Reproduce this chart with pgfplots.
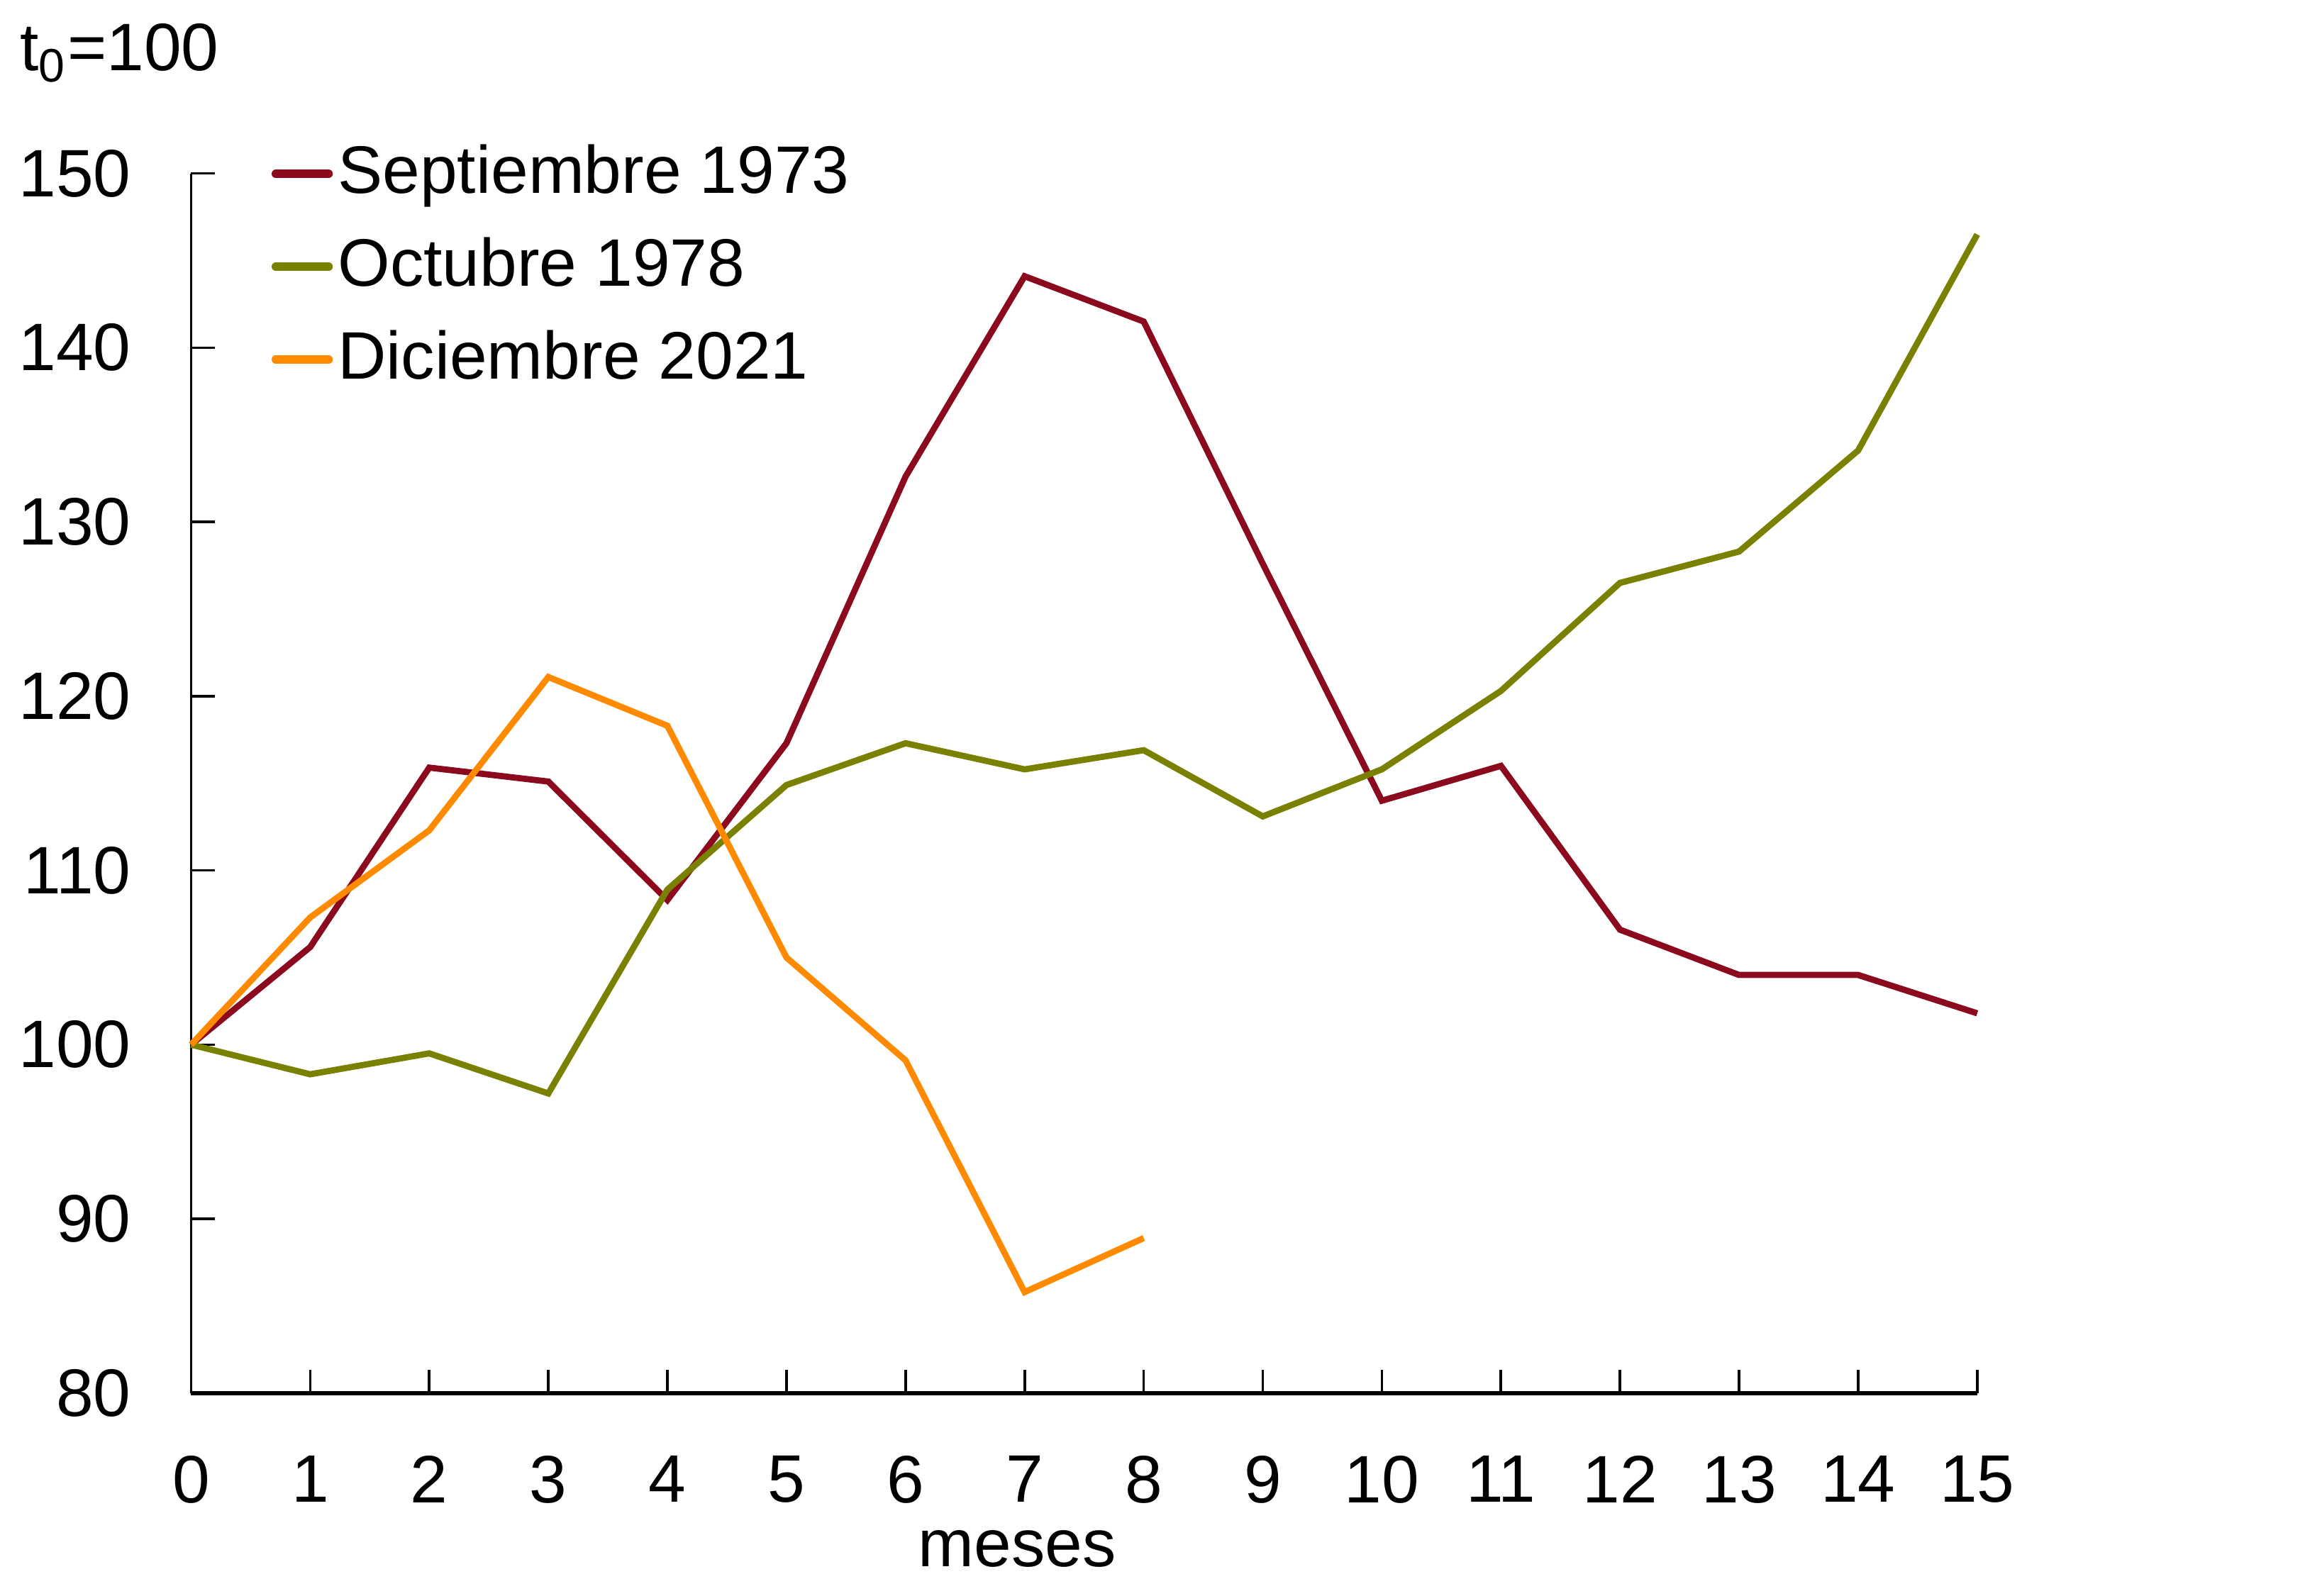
\documentclass[border=0pt]{standalone}
\usepackage{fontspec}
\setmainfont{Liberation Sans}
\usepackage{pgfplots}
\pgfplotsset{compat=1.18}
\definecolor{cRed}{HTML}{8B0A1E}
\definecolor{cOlive}{HTML}{7A8000}
\definecolor{cOrange}{HTML}{FF8A00}
\begin{document}
\fontsize{13}{15.5}\selectfont
\begin{tikzpicture}
\path[use as bounding box] (-1.30cm,-1.38cm) rectangle (14.38cm,9.48cm);
\begin{axis}[
  at={(0,0)}, anchor=origin,
  scale only axis, width=12.15cm, height=8.30cm,
  xmin=0, xmax=15, ymin=80, ymax=150,
  axis x line*=bottom, axis y line*=left,
  x axis line style={line width=0.9pt,-},
  y axis line style={line width=0.5pt,-},
  xtick={0,...,15}, ytick={80,90,...,150},
  tick align=inside, major tick length=0.16cm,
  tick style={line width=0.5pt,black},
  /pgf/number format/assume math mode=true,
  ticklabel style={font=\fontsize{13}{15.5}\selectfont},
  xticklabel style={inner ysep=0pt, yshift=-0.42cm},
  yticklabel style={xshift=-0.25cm},
  clip=false,
  legend cell align=left,
  legend style={draw=none, fill=none, at={(rel axis cs:0.0445,1.033)}, anchor=north west, inner sep=0pt, font=\fontsize{13}{15.5}\selectfont, row sep=2.6pt, nodes={inner xsep=1pt}},
  legend image code/.code={\draw[line width=1.6pt, line cap=round] (0cm,0cm) -- (0.36cm,0cm);},
]
\addplot[cRed, line width=1.2pt] coordinates {
(0,100) (1,105.6) (2,115.9) (3,115.1) (4,108.3) (5,117.3) (6,132.6) (7,144.1) (8,141.5) (9,127.6) (10,114.0) (11,116.0) (12,106.6) (13,104.0) (14,104.0) (15,101.8)};
\addlegendentry{Septiembre 1973}
\addplot[cOlive, line width=1.2pt] coordinates {
(0,100) (1,98.3) (2,99.5) (3,97.2) (4,108.9) (5,114.9) (6,117.3) (7,115.8) (8,116.9) (9,113.1) (10,115.8) (11,120.3) (12,126.5) (13,128.3) (14,134.1) (15,146.5)};
\addlegendentry{Octubre 1978}
\addplot[cOrange, line width=1.2pt] coordinates {
(0,100) (1,107.3) (2,112.3) (3,121.1) (4,118.3) (5,105.0) (6,99.1) (7,85.8) (8,88.9)};
\addlegendentry{Diciembre 2021}
\end{axis}
\node[anchor=center, inner sep=0pt] at (5.62cm,-1.06cm) {meses};
\node[anchor=west, inner sep=0pt] at (-1.17cm,9.12cm) {t\textsubscript{0}=100};
\end{tikzpicture}
\end{document}
